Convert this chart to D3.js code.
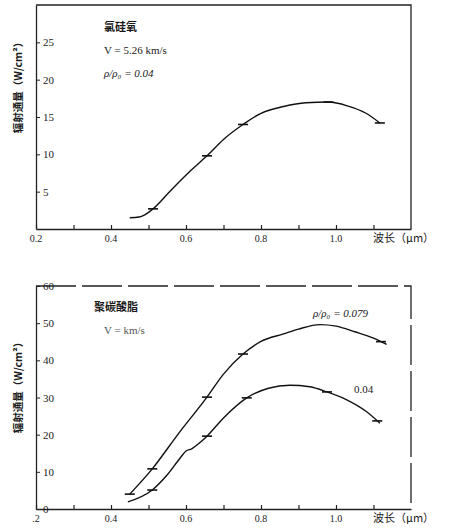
<!DOCTYPE html>
<html><head><meta charset="utf-8">
<script src="https://cdn.jsdelivr.net/npm/d3@7"></script>
<style>
body{margin:0;background:#fff;}
svg{display:block;}
text{fill:#1a1a1a;}
</style></head>
<body><svg id="c" width="450" height="530"></svg>
<script>
// ---- data ----
const xTicks = [0.2,0.3,0.4,0.5,0.6,0.7,0.8,0.9,1.0,1.1];
const xLabelsTop = ["0.2","0.4","0.6","0.8","1.0"];
const xLabelsBot = [".2","0.4","0.6","0.8","1.0"];
const xLabelVals = [0.2,0.4,0.6,0.8,1.0];
const yTicksTop = [5,10,15,20,25];
const yTicksBot = [0,10,20,30,40,50,60];

// top: 氯硅氧, rho/rho0 = 0.04
const topWl   = [0.45,0.475,0.49,0.512,0.56,0.61,0.656,0.70,0.752,0.80,0.86,0.92,0.98,1.03,1.08,1.117];
const topFlux = [1.5,1.6,1.9,2.7,5.2,7.7,9.8,12.0,14.0,15.5,16.4,16.9,17.0,16.5,15.5,14.2];
const topMarks = [0.512,0.656,0.752,0.98,1.117];

// bottom: 聚碳酸脂, rho/rho0 = 0.079
const b1Wl   = [0.45,0.51,0.58,0.656,0.70,0.752,0.80,0.86,0.90,0.957,1.00,1.05,1.10,1.135];
const b1Flux = [4.0,10.8,20.3,30.1,36.3,41.7,45.1,47.1,48.4,49.6,49.2,47.7,46.0,44.3];
const b1Marks = [0.45,0.51,0.656,0.752,1.12];
// bottom: rho/rho0 = 0.04
const b2Wl   = [0.445,0.51,0.55,0.585,0.60,0.615,0.63,0.656,0.70,0.762,0.82,0.877,0.93,0.976,1.03,1.08,1.117];
const b2Flux = [1.9,5.1,9.2,13.8,15.6,16.2,17.3,19.6,24.5,29.9,32.5,33.3,32.9,31.5,29.3,26.3,23.1];
const b2Marks = [0.51,0.656,0.762,0.976,1.11];

const svg = d3.select("#c");
const cjk = "'Noto Sans CJK SC', 'Liberation Serif', serif";
const serif = "'Liberation Serif', 'DejaVu Serif', serif";

function panel(cfg){
  const x = d3.scaleLinear([0.2,1.2],[36,411]);
  const y = d3.scaleLinear(cfg.yDomain,[cfg.bottom,cfg.top]);
  const g = svg.append("g");
  g.append("path").attr("d",`M${x(0.2)},${cfg.top}H${x(1.2)}V${cfg.bottom}`)
    .attr("fill","none").attr("stroke","#222").attr("stroke-width",1.3)
    .attr("stroke-dasharray",cfg.dash||null);
  const xa = g.append("g").attr("transform",`translate(0,${cfg.bottom})`)
    .call(d3.axisBottom(x).tickValues(xTicks).tickSizeInner(-4).tickSizeOuter(0).tickFormat(""));
  xa.select(".domain").attr("stroke","#222").attr("stroke-width",1.3);
  xa.selectAll(".tick line").attr("stroke","#222").attr("stroke-width",1.2);
  g.selectAll(".xl").data(xLabelVals).enter().append("text")
    .attr("x",d=>x(d)).attr("y",cfg.bottom+13).attr("text-anchor","middle")
    .attr("font-family",serif).attr("font-size",10)
    .text((d,i)=>cfg.xLabels[i]);
  g.append("text").attr("x",373).attr("y",cfg.bottom+13)
    .attr("font-family",cjk).attr("font-size",11).text("波长（μm）");
  const ya = g.append("g").attr("transform",`translate(${x(0.2)},0)`)
    .call(d3.axisRight(y).tickValues(cfg.yTicks).tickSizeInner(4).tickSizeOuter(0).tickPadding(3));
  ya.select(".domain").attr("stroke","#222").attr("stroke-width",1.3);
  ya.selectAll(".tick line").attr("stroke","#222");
  ya.selectAll(".tick text").attr("font-family",serif).attr("font-size",11).style("fill","#222");
  g.append("text").attr("transform",`translate(22,${cfg.titleY}) rotate(-90)`)
    .attr("text-anchor","middle").attr("font-family",cjk).attr("font-size",10.5)
    .attr("font-weight","bold").text("辐射通量（W/cm²）");
  const line = d3.line().x(d=>x(d[0])).y(d=>y(d[1])).curve(d3.curveMonotoneX);
  cfg.series.forEach(s=>{
    const pts = s.wl.map((w,i)=>[w,s.flux[i]]);
    g.append("path").datum(pts).attr("d",line).attr("fill","none")
      .attr("stroke","#111").attr("stroke-width",1.4);
    const interp = w=>{ for(let i=0;i<s.wl.length-1;i++){ if(w>=s.wl[i]&&w<=s.wl[i+1]){const t=(w-s.wl[i])/(s.wl[i+1]-s.wl[i]);return s.flux[i]+t*(s.flux[i+1]-s.flux[i]);} } return s.flux[s.flux.length-1]; };
    g.selectAll(null).data(s.marks).enter().append("line")
      .attr("x1",d=>x(d)-5).attr("x2",d=>x(d)+5)
      .attr("y1",d=>y(interp(d))).attr("y2",d=>y(interp(d)))
      .attr("stroke","#111").attr("stroke-width",1.6);
  });
  return {x,y,g};
}

const T = panel({yDomain:[0,30],top:5,bottom:229,yTicks:yTicksTop,xLabels:xLabelsTop,titleY:85,
  series:[{wl:topWl,flux:topFlux,marks:topMarks}]});
T.g.append("text").attr("x",104).attr("y",31).attr("font-family",cjk).attr("font-size",11).attr("font-weight","bold").text("氯硅氧");
T.g.append("text").attr("x",104).attr("y",54).attr("font-family",serif).attr("font-size",11).text("V = 5.26 km/s");
T.g.append("text").attr("x",104).attr("y",77).attr("font-family",serif).attr("font-size",11).attr("font-style","italic").text("ρ/ρ₀ = 0.04");

const B = panel({yDomain:[0,60],top:286,bottom:509,yTicks:yTicksBot,xLabels:xLabelsBot,titleY:385,dash:"40,6",
  series:[{wl:b1Wl,flux:b1Flux,marks:b1Marks},{wl:b2Wl,flux:b2Flux,marks:b2Marks}]});
B.g.append("text").attr("x",94).attr("y",311).attr("font-family",cjk).attr("font-size",11).attr("font-weight","bold").text("聚碳酸脂");
B.g.append("text").attr("x",104).attr("y",334).attr("font-family",serif).attr("font-size",11).style("fill","#555").text("V =      km/s");
B.g.append("text").attr("x",313).attr("y",317).attr("font-family",serif).attr("font-size",11).attr("font-style","italic").text("ρ/ρ₀ = 0.079");
B.g.append("text").attr("x",354).attr("y",393).attr("font-family",serif).attr("font-size",11).text("0.04");
</script></body></html>
